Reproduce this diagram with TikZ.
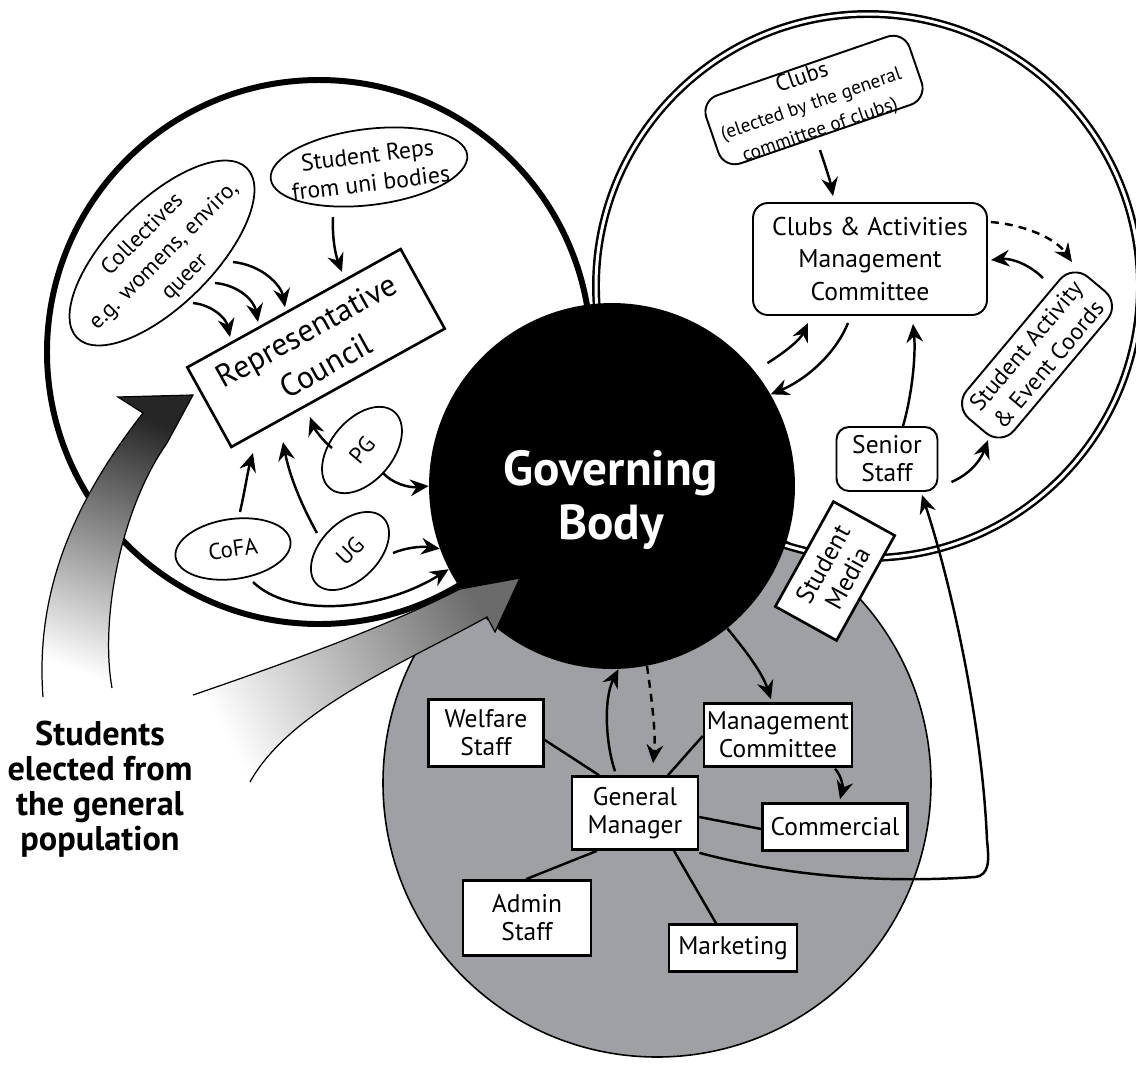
\documentclass[tikz,border=0pt]{standalone}
\usepackage{fontspec}
\setmainfont{PT Sans}
\usetikzlibrary{arrows.meta,shapes.geometric,calc}
\definecolor{unionGray}{RGB}{158,160,163}

\begin{document}
\begin{tikzpicture}[x=0.02cm, y=-0.02cm,
  sq/.style={draw, line width=1.5pt, fill=white, align=center, inner sep=0pt,
             font=\fontsize{14.5pt}{16pt}\selectfont},
  rnd/.style={draw, line width=1.1pt, fill=white, align=center, inner sep=0pt,
              rounded corners=0.3cm, font=\fontsize{14.5pt}{16pt}\selectfont},
  oval/.style={draw, ellipse, line width=1pt, fill=white, inner sep=0pt, align=center,
               font=\fontsize{13pt}{16pt}\selectfont},
  txt/.style={align=center, inner sep=0pt, font=\fontsize{13pt}{17pt}\selectfont},
  link/.style={line width=1.4pt},
  arr/.style={line width=1.4pt, -{Stealth[length=10.5pt, width=9.5pt, inset=3.5pt]}},
  darr/.style={arr, dash pattern=on 4.5pt off 3.5pt},
  bigedge/.style={line width=0.7pt}
]
\useasboundingbox (0,0) rectangle (1136,1066);

% the three spheres of the union
\draw[line width=3.4pt] (319,352) circle[radius=272];
\draw[fill=unionGray, line width=0.9pt] (657,783) circle[radius=274];
\draw[line width=1.4pt, double=white, double distance=1.7pt] (868,286) circle[radius=272];

% governing body
\node[circle, fill=black, inner sep=0pt, minimum size=7.32cm] (gov) at (612,486) {};
\node[text=white, align=center, inner sep=0pt,
      font=\fontsize{28pt}{30.6pt}\selectfont\bfseries] (govlabel) at (611,500) {Governing\\Body};

% shaded election arrows
\shade[top color=black!85, middle color=black!35, bottom color=white, shading angle=-21]
  (43,697) .. controls (35,590) and (75,500) .. (143,413) -- (118,397) -- (193,395)
  -- (167,443) .. controls (120,510) and (100,620) .. (112,688) -- cycle;
\draw[bigedge] (43,697) .. controls (35,590) and (75,500) .. (143,413) -- (118,397) -- (193,395)
  -- (167,443) .. controls (120,510) and (100,620) .. (112,688);

\shade[left color=white, middle color=black!20, right color=black!58, shading angle=118]
  (193,695) .. controls (260,672) and (380,630) .. (460,589) -- (520,578) -- (495,632)
  -- (487,617) .. controls (400,665) and (290,710) .. (250,782) -- cycle;
\draw[bigedge] (193,695) .. controls (260,672) and (380,630) .. (460,589) -- (520,578) -- (495,632)
  -- (487,617) .. controls (400,665) and (290,710) .. (250,782);

\node[align=center, inner sep=0pt, font=\fontsize{19.5pt}{19.8pt}\selectfont\bfseries]
  (students) at (100,789) {Students\\elected from\\the general\\population};

% representative side
\node[oval, minimum width=4.8cm, minimum height=2.08cm, rotate=45] (coll) at (162,253) {};
\node[txt, rotate=45] (colltext) at (164,256) {Collectives\\e.g. womens, enviro,\\queer};
\node[oval, minimum width=3.96cm, minimum height=1.52cm, rotate=7] (reps) at (369,167) {};
\node[txt, rotate=7, font=\fontsize{13.5pt}{16pt}\selectfont] (repstext) at (369,169) {Student Reps\\from uni bodies};
\node[sq, minimum width=4.88cm, minimum height=1.82cm, rotate=29,
      font=\fontsize{18pt}{23pt}\selectfont] (rc) at (316,348) {Representative\\Council};
\node[oval, minimum width=2cm, minimum height=1.24cm, rotate=50] (pg) at (362,450) {PG};
\node[oval, minimum width=2.32cm, minimum height=1.2cm, rotate=8] (cofa) at (233,549) {CoFA};
\node[oval, minimum width=1.88cm, minimum height=1.16cm, rotate=45] (ug) at (350,551) {UG};

% clubs side
\node[rnd, minimum width=4.3cm, minimum height=1.44cm, rotate=19, rounded corners=0.35cm] (clubs) at (814,100) {};
\node[txt, rotate=19, font=\fontsize{11pt}{15.5pt}\selectfont] (clubstext) at (811,104)
  {\fontsize{13pt}{15.5pt}\selectfont Clubs\\(elected by the general\\committee of clubs)};
\node[rnd, minimum width=4.68cm, minimum height=2.24cm,
      font=\fontsize{14.6pt}{18.4pt}\selectfont] (cam) at (870,259)
  {Clubs \& Activities\\Management\\Committee};
\node[rnd, minimum width=3.7cm, minimum height=1.24cm, rotate=50, rounded corners=0.4cm,
      font=\fontsize{13.5pt}{16.5pt}\selectfont] (sa) at (1037,355)
  {Student Activity\\\& Event Coords};
\node[rnd, minimum width=2.02cm, minimum height=1.28cm, rounded corners=0.25cm] (senior) at (887,459) {Senior\\Staff};
\node[sq, minimum width=2.4cm, minimum height=1.4cm, rotate=61] (media) at (835,571) {Student\\Media};

% staff side
\node[sq, minimum width=2.3cm, minimum height=1.34cm] (welfare) at (486,733) {Welfare\\Staff};
\node[sq, minimum width=2.96cm, minimum height=1.26cm] (mgmt) at (778,735) {Management\\Committee};
\node[sq, minimum width=2.52cm, minimum height=1.46cm] (gm) at (635,813) {General\\Manager};
\node[sq, minimum width=2.9cm, minimum height=0.94cm] (comm) at (835,827) {Commercial};
\node[sq, minimum width=2.56cm, minimum height=1.5cm] (admin) at (527,918) {Admin\\Staff};
\node[sq, minimum width=2.56cm, minimum height=0.94cm] (mkt) at (733,948) {Marketing};

% representative connections
\draw[arr] ($(coll)+(31,50)$) .. controls (212,305) and (226,318) .. ($(rc)+(-86,-11)$);
\draw[arr] ($(coll)+(53,30)$) .. controls (238,285) and (254,300) .. ($(rc)+(-58,-26)$);
\draw[arr] ($(coll)+(71,9)$) .. controls (262,265) and (281,285) .. ($(rc)+(-31,-41)$);
\draw[arr] ($(reps)+(-36,50)$) .. controls (332,240) and (336,256) .. ($(rc)+(26,-76)$);
\draw[arr] ($(pg)+(-30,-2)$) .. controls (322,440) and (314,428) .. ($(rc)+(-6,69)$);
\draw[arr] ($(pg)+(21,23)$) .. controls (392,483) and (408,488) .. (gov.180);
\draw[arr] ($(cofa)+(7,-37)$) .. controls (245,490) and (248,470) .. ($(rc)+(-63,105)$);
\draw[arr] ($(ug)+(-33,-18)$) .. controls (303,508) and (290,478) .. ($(rc)+(-33,94)$);
\draw[arr] ($(ug)+(43,2)$) .. controls (405,548) and (420,546) .. (gov.200);
\draw[arr] ($(cofa)+(20,33)$) .. controls (290,618) and (380,612) .. (gov.207);

% clubs connections
\draw[arr] ($(clubs)+(6,50)$) .. controls (825,165) and (830,180) .. ($(cam.north)+(-37,-6)$);
\draw[darr] ($(cam.east)+(3,-37)$) .. controls (1025,225) and (1055,238) .. ($(sa)+(35,-93)$);
\draw[arr] ($(sa)+(6,-77)$) .. controls (1030,265) and (1012,258) .. ($(cam.east)+(3,1)$);
\draw[arr] ($(gov.38)+(11,-10)$) .. controls (785,352) and (800,340) .. ($(cam.south)+(-62,7)$);
\draw[arr] ($(cam.south)+(-22,7)$) .. controls (835,355) and (805,380) .. (gov.30);
\draw[arr] ($(senior.north)+(16,0)$) .. controls (912,395) and (916,355) .. ($(cam.south)+(43,8)$);
\draw[arr] ($(senior.east)+(13,23)$) .. controls (968,475) and (980,462) .. ($(sa)+(-49,85)$);

% staff connections
\draw[arr] ($(gm.north)+(-20,-4)$) .. controls (606,745) and (603,700) .. (gov.-88);
\draw[darr] (gov.-79) .. controls (652,700) and (656,735) .. ($(gm.north)+(18,-12)$);
\draw[arr] (gov.-51) .. controls (745,650) and (762,672) .. ($(mgmt.north)+(-7,-3)$);
\draw[arr] ($(mgmt.south)+(57,1)$) .. controls (842,776) and (843,788) .. ($(comm.north)+(5,-3)$);
\draw[link] ($(gm.north)+(-36,0)$) -- ($(welfare.east)+(0,7)$);
\draw[link] ($(gm.north)+(33,0)$) -- ($(mgmt.west)+(0,1)$);
\draw[link] ($(gm.east)+(0,4)$) -- ($(comm.west)+(0,2)$);
\draw[link] ($(gm.south)+(-38,0)$) -- ($(admin.north)+(-1,0)$);
\draw[link] ($(gm.south)+(39,0)$) -- ($(mkt.north)+(-17,0)$);
\draw[arr] ($(gm.south east)+(0,2)$) .. controls (820,885) and (930,880) .. (975,877)
  .. controls (990,875) and (989,860) .. (987,840)
  .. controls (982,720) and (950,580) .. ($(senior.south)+(35,3)$);
\end{tikzpicture}
\end{document}
